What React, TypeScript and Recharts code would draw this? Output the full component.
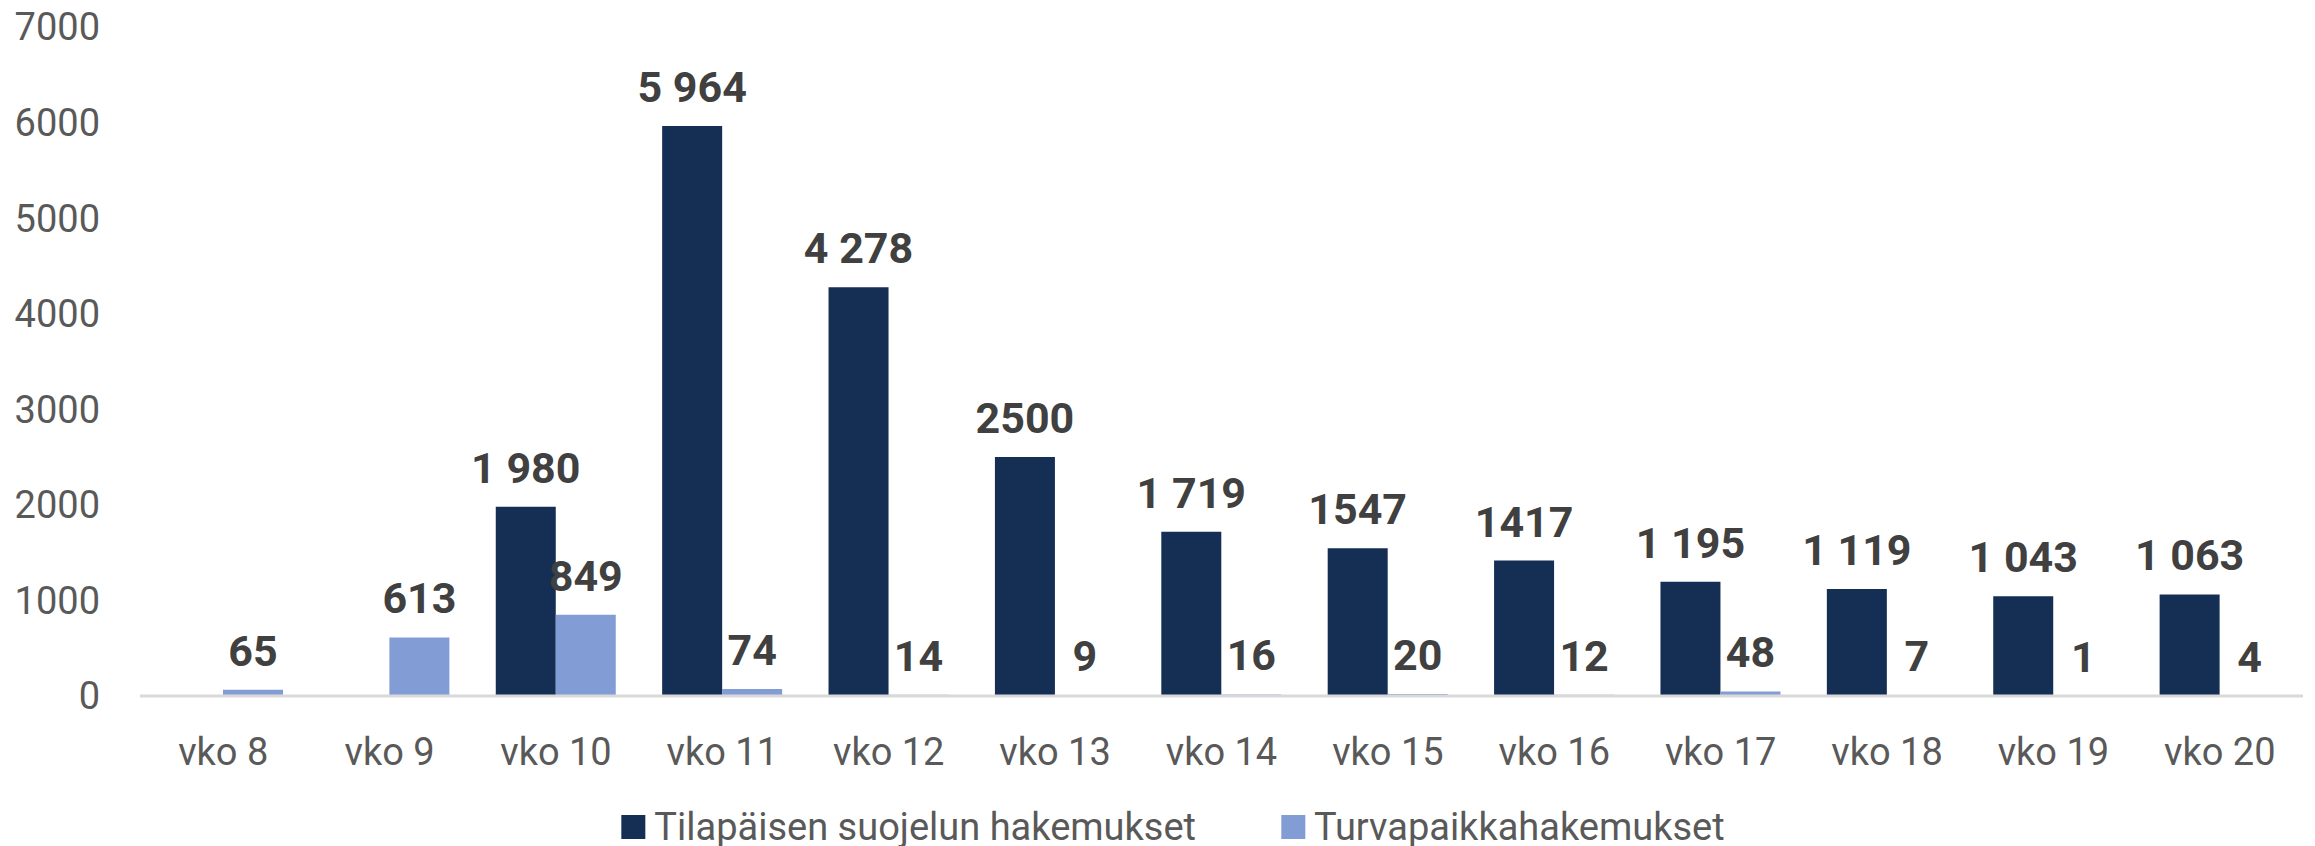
import React from 'react';
import { BarChart, Bar, XAxis, YAxis, LabelList } from 'recharts';

const weeks = ['vko 8', 'vko 9', 'vko 10', 'vko 11', 'vko 12', 'vko 13', 'vko 14', 'vko 15', 'vko 16', 'vko 17', 'vko 18', 'vko 19', 'vko 20'];
const tilapaiset = [null, null, 1980, 5964, 4278, 2500, 1719, 1547, 1417, 1195, 1119, 1043, 1063];
const tilapaisetLabels = [null, null, '1 980', '5 964', '4 278', '2500', '1 719', '1547', '1417', '1 195', '1 119', '1 043', '1 063'];
const turvapaikka = [65, 613, 849, 74, 14, 9, 16, 20, 12, 48, 7, 1, 4];
const yTicks = [0, 1000, 2000, 3000, 4000, 5000, 6000, 7000];

const seriesNames = ['Tilapäisen suojelun hakemukset', 'Turvapaikkahakemukset'];
const colors = ['#152E54', '#829CD6'];

const data = weeks.map((week, i) => ({
  week,
  tilapaiset: tilapaiset[i],
  tilapaisetLabel: tilapaisetLabels[i],
  turvapaikka: turvapaikka[i],
}));

const font = 'Roboto, sans-serif';
const labelStyle = { fill: '#404040', fontSize: 43, fontWeight: 700, fontFamily: font };

export default function App() {
  return (
    <div style={{ position: 'relative', width: 2315, height: 846, background: '#fff' }}>
      <style>{`body{margin:0}`}</style>
      <BarChart
        width={2315}
        height={846}
        data={data}
        margin={{ top: 27, right: 12, left: 10, bottom: 90 }}
        barSize={60}
        barGap={0}
      >
        <XAxis
          dataKey="week"
          height={60}
          axisLine={{ stroke: '#D9D9D9', strokeWidth: 3 }}
          tickLine={false}
          tickSize={8}
          tickMargin={34}
          tick={{ fill: '#595959', fontSize: 38, fontFamily: font }}
          interval={0}
        />
        <YAxis
          width={130}
          domain={[0, 7000]}
          ticks={yTicks}
          axisLine={false}
          tickLine={false}
          tickSize={8}
          tickMargin={32}
          tick={{ fill: '#595959', fontSize: 38, fontFamily: font }}
        />
        <Bar dataKey="tilapaiset" fill={colors[0]} isAnimationActive={false}>
          <LabelList dataKey="tilapaisetLabel" position="top" offset={24} style={labelStyle} />
        </Bar>
        <Bar dataKey="turvapaikka" fill={colors[1]} isAnimationActive={false}>
          <LabelList dataKey="turvapaikka" position="top" offset={24} style={labelStyle} />
        </Bar>
      </BarChart>
      <div
        style={{
          position: 'absolute',
          top: 805,
          left: 1173,
          transform: 'translateX(-50%)',
          display: 'flex',
          alignItems: 'center',
          whiteSpace: 'nowrap',
          fontFamily: font,
          fontSize: 38,
          color: '#595959',
        }}
      >
        {seriesNames.map((name, i) => (
          <div key={name} style={{ display: 'flex', alignItems: 'center', marginRight: i === 0 ? 85 : 0 }}>
            <span style={{ display: 'inline-block', width: 24, height: 24, background: colors[i], marginRight: 9 }} />
            <span>{name}</span>
          </div>
        ))}
      </div>
    </div>
  );
}
